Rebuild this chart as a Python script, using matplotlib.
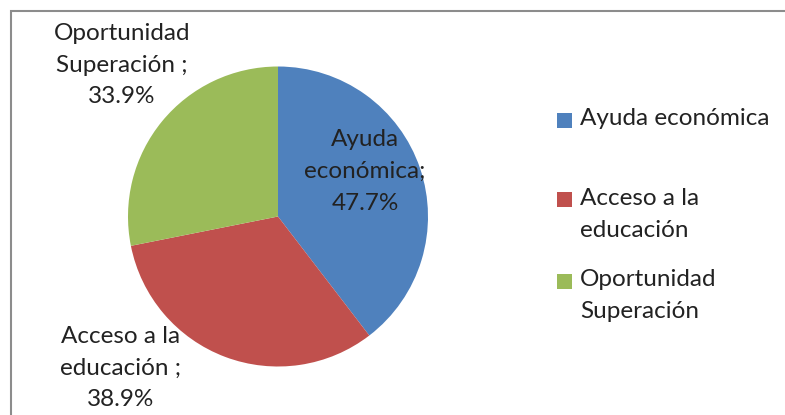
import matplotlib.pyplot as plt
from matplotlib.patches import Rectangle

categorias = ['Ayuda económica', 'Acceso a la\neducación', 'Oportunidad\nSuperación']
valores = [47.7, 38.9, 33.9]
etiquetas = ['Ayuda\neconómica;\n47.7%', 'Acceso a la\neducación ;\n38.9%', 'Oportunidad\nSuperación ;\n33.9%']
colores = ['#4F81BD', '#C0504D', '#9BBB59']

plt.rcParams['font.family'] = ['Lato', 'DejaVu Sans']

W, H = 785, 415
fig = plt.figure(figsize=(W / 100, H / 100), dpi=100)

# pie axes: center (278, 216.5) px, radius 150 px
cx, cy, r = 278, 216.5, 150
ax = fig.add_axes([(cx - r) / W, (H - cy - r) / H, 2 * r / W, 2 * r / H])
wedges, _ = ax.pie(valores, colors=colores, startangle=90, counterclock=False,
                   radius=1, wedgeprops=dict(linewidth=0))
ax.set_xlim(-1, 1)
ax.set_ylim(-1, 1)
ax.set_aspect('equal')
ax.axis('off')

pos = [(0.58, 0.30), (-1.05, -1.01), (-1.04, 1.01)]
for (x, y), t in zip(pos, etiquetas):
    ax.text(x, y, t, ha='center', va='center', fontsize=17.5, color='#222222',
            linespacing=1.62, clip_on=False)

# legend, drawn by hand so the square sits on the first line
leg_y = [120, 200, 281]
for yc, lab, col in zip(leg_y, categorias, colores):
    fig.add_artist(Rectangle((557 / W, (H - yc - 7.5) / H), 15 / W, 15 / H,
                             facecolor=col, edgecolor='none', transform=fig.transFigure))
    fig.text(580 / W, (H - yc + 12) / H, lab, ha='left', va='top', fontsize=17.5,
             color='#222222', linespacing=1.62)

fig.add_artist(Rectangle((11 / W, -0.1), 1.0, (H - 11) / H + 0.1, fill=False,
                         edgecolor='#8c8c8c', linewidth=1.5, transform=fig.transFigure))

fig.savefig('out.png', dpi=100)
